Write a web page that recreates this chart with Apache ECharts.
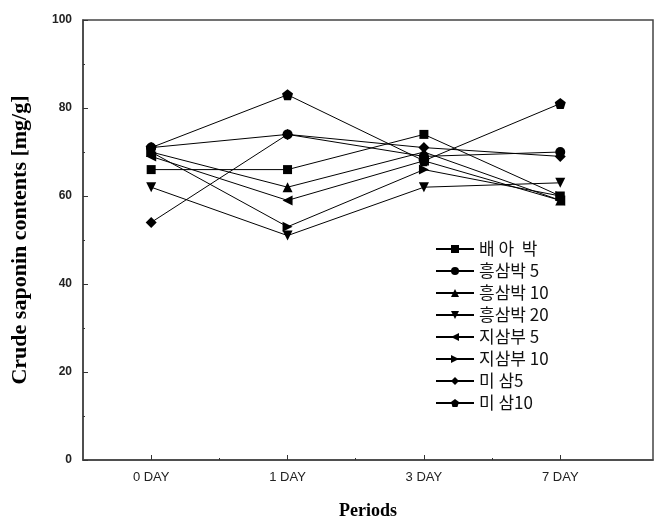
<!DOCTYPE html>
<html><head><meta charset="utf-8">
<script src="https://cdn.jsdelivr.net/npm/echarts@6/dist/echarts.min.js"></script>
<style>html,body{margin:0;padding:0;background:#fff}#c{width:656px;height:527px}</style>
</head><body><div id="c"></div>
<script>
var categories = ['0 DAY', '1 DAY', '3 DAY', '7 DAY'];
var seriesNames = ['배 아  박', '흥삼박 5', '흥삼박 10', '흥삼박 20', '지삼부 5', '지삼부 10', '미 삼5', '미 삼10'];
var s_baeabak = [66, 66, 74, 60];
var s_hong5 = [71, 74, 69, 70];
var s_hong10 = [70, 62, 70, 59];
var s_hong20 = [62, 51, 62, 63];
var s_ji5 = [69, 59, 68, 59];
var s_ji10 = [70, 53, 66, 60];
var s_mi5 = [54, 74, 71, 69];
var s_mi10 = [71, 83, 68, 81];
var yTicks = [0, 20, 40, 60, 80, 100];
var xTickValues = [0, 1, 2, 3];
var xMinorValues = [0.5, 1.5, 2.5];

var allData = [s_baeabak, s_hong5, s_hong10, s_hong20, s_ji5, s_ji10, s_mi5, s_mi10];
var symbols = ['rect', 'circle', 'triangle', 'triangle', 'triangle', 'triangle', 'diamond',
  'path://M0,-10 L9.5,-3.1 L5.9,8.1 L-5.9,8.1 L-9.5,-3.1 Z'];
var rotates = [0, 0, 0, 180, 90, -90, 0, 0];
var sizes = [9, 10, 10, 10, 10, 10, 11, 11];

var series = seriesNames.map(function (n, i) {
  return {
    name: n, type: 'line',
    data: allData[i].map(function (v, j) { return [j, v]; }),
    symbol: symbols[i], symbolRotate: rotates[i], symbolSize: sizes[i],
    itemStyle: { color: '#000' },
    lineStyle: { color: '#000', width: 1 },
    emphasis: { disabled: true }
  };
});

var xMin = -0.5, xMax = 3.68;
var chart = echarts.init(document.getElementById('c'), null, { renderer: 'canvas' });
chart.setOption({
  animation: false,
  backgroundColor: '#fff',
  grid: { left: 83, top: 20, right: 3, bottom: 67, show: true, borderColor: '#444', borderWidth: 1.5, backgroundColor: 'transparent' },
  legend: {
    orient: 'vertical', left: 430, top: 235,
    itemWidth: 38, itemHeight: 10, itemGap: 4,
    data: seriesNames,
    textStyle: { fontFamily: 'Noto Sans CJK KR', fontSize: 17, color: '#111', lineHeight: 18 }
  },
  xAxis: [{
    type: 'value', min: xMin, max: xMax,
    name: 'Periods', nameLocation: 'middle', nameGap: 42,
    nameTextStyle: { fontFamily: 'Liberation Serif', fontWeight: 'bold', fontSize: 18, color: '#000' },
    axisLine: { show: true, onZero: false, lineStyle: { color: '#444', width: 1.5 } },
    axisTick: { show: true, inside: true, length: 5, customValues: xTickValues, lineStyle: { color: '#333' } },
    splitLine: { show: false },
    axisLabel: {
      margin: 11, fontFamily: 'Liberation Sans', fontSize: 13, color: '#222', customValues: xTickValues,
      formatter: function (v) { return categories[Math.round(v)]; }
    }
  }, {
    type: 'value', min: xMin, max: xMax, position: 'bottom',
    axisLine: { show: false, onZero: false },
    axisTick: { show: true, inside: true, length: 2, customValues: xMinorValues, lineStyle: { color: '#333' } },
    axisLabel: { show: false }, splitLine: { show: false }
  }],
  yAxis: {
    type: 'value', min: 0, max: 100, interval: 20,
    name: 'Crude saponin contents [mg/g]', nameLocation: 'middle', nameGap: 52,
    nameTextStyle: { fontFamily: 'Liberation Serif', fontWeight: 'bold', fontSize: 22, color: '#000' },
    axisLine: { show: true, onZero: false, lineStyle: { color: '#444', width: 1.5 } },
    axisTick: { show: true, inside: true, length: 5, lineStyle: { color: '#333' } },
    minorTick: { show: true, splitNumber: 2, length: 2, lineStyle: { color: '#333' } },
    splitLine: { show: false },
    axisLabel: { margin: 11, fontFamily: 'Liberation Sans', fontWeight: 'bold', fontSize: 12, color: '#222',
      formatter: function (v) { return yTicks.indexOf(v) >= 0 ? String(v) : ''; } }
  },
  series: series
});
</script>
</body></html>
